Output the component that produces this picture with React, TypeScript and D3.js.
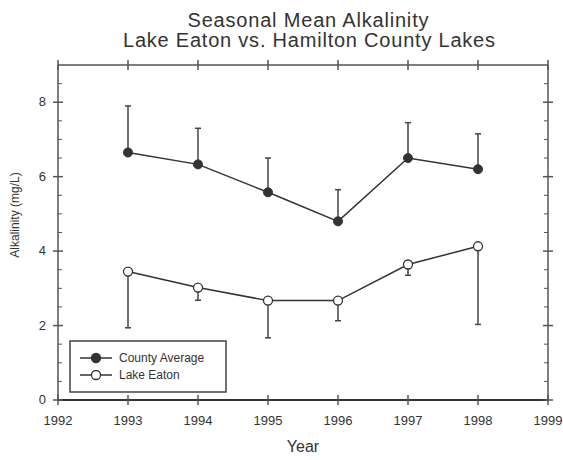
import React from 'react';
import * as d3 from 'd3';

// values
const years = [1993, 1994, 1995, 1996, 1997, 1998];
const countyMean = [6.65, 6.33, 5.58, 4.8, 6.5, 6.2];
const countyUpper = [7.9, 7.3, 6.5, 5.65, 7.45, 7.15];
const eatonMean = [3.45, 3.02, 2.67, 2.67, 3.64, 4.13];
const eatonLower = [1.94, 2.68, 1.67, 2.13, 3.35, 2.03];
const xTicks = [1992, 1993, 1994, 1995, 1996, 1997, 1998, 1999];
const yTicks = [0, 2, 4, 6, 8];
const legendLabels = ['County Average', 'Lake Eaton'];

const ink = '#333';
const font = 'Arial, "Liberation Sans", sans-serif';

export default function App() {
  const width = 563, height = 460;
  const margin = { top: 65, right: 15, bottom: 60, left: 58 };

  const x = d3.scaleLinear().domain([1992, 1999]).range([margin.left, width - margin.right]);
  const y = d3.scaleLinear().domain([0, 9]).range([height - margin.bottom, margin.top]);
  const [x0, x1] = x.range();
  const [yb, yt] = y.range();

  const line = d3.line<number>().x((_, i) => x(years[i])).y((d) => y(d));
  const minor = d3.range(0.5, 9, 0.5).filter((v) => v % 2 !== 0);

  return (
    <svg width={width} height={height} style={{ position: 'absolute', left: 0, top: 0 }} fontFamily={font}>
      <rect width={width} height={height} fill="#fff" />
      <text x={308} y={27} textAnchor="middle" fontSize={20} fill={ink} textLength={241} lengthAdjust="spacing">
        Seasonal Mean Alkalinity
      </text>
      <text x={309} y={47} textAnchor="middle" fontSize={20} fill={ink} textLength={372} lengthAdjust="spacing">
        Lake Eaton vs. Hamilton County Lakes
      </text>

      {/* frame */}
      <g stroke="#555" strokeWidth={1.5} fill="none">
        <line x1={x0} x2={x1} y1={yt} y2={yt} />
        <line x1={x0} x2={x0} y1={yt} y2={yb} />
        <line x1={x1} x2={x1} y1={yt} y2={yb} />
        <line x1={x0} x2={x1} y1={yb} y2={yb} stroke="#333" strokeWidth={2} />
        {xTicks.map((t) => (
          <g key={t}>
            <line x1={x(t)} x2={x(t)} y1={yb - 5} y2={yb + 5} />
            <line x1={x(t)} x2={x(t)} y1={yt - 5} y2={yt + 5} />
          </g>
        ))}
        {yTicks.map((t) => (
          <g key={t}>
            <line x1={x0 - 5} x2={x0 + 5} y1={y(t)} y2={y(t)} />
            <line x1={x1 - 5} x2={x1 + 5} y1={y(t)} y2={y(t)} />
          </g>
        ))}
        {minor.map((t) => (
          <g key={t} strokeWidth={1}>
            <line x1={x0} x2={x0 + 4} y1={y(t)} y2={y(t)} />
            <line x1={x1 - 4} x2={x1} y1={y(t)} y2={y(t)} />
          </g>
        ))}
      </g>

      <g fontSize={13} fill={ink}>
        {xTicks.map((t) => (
          <text key={t} x={x(t)} y={yb + 25} textAnchor="middle">{t}</text>
        ))}
        {yTicks.map((t) => (
          <text key={t} x={x0 - 12} y={y(t) + 4} textAnchor="end">{t}</text>
        ))}
      </g>
      <text x={(x0 + x1) / 2} y={yb + 52} textAnchor="middle" fontSize={16} fill={ink}>Year</text>
      <text transform="translate(19,215) rotate(-90)" textAnchor="middle" fontSize={12} fill={ink}>
        Alkalinity (mg/L)
      </text>

      {/* error bars */}
      <g stroke="#444" strokeWidth={1.5}>
        {years.map((yr, i) => (
          <g key={yr}>
            <line x1={x(yr)} x2={x(yr)} y1={y(countyMean[i])} y2={y(countyUpper[i])} />
            <line x1={x(yr) - 3} x2={x(yr) + 3} y1={y(countyUpper[i])} y2={y(countyUpper[i])} />
            <line x1={x(yr)} x2={x(yr)} y1={y(eatonMean[i])} y2={y(eatonLower[i])} />
            <line x1={x(yr) - 3} x2={x(yr) + 3} y1={y(eatonLower[i])} y2={y(eatonLower[i])} />
          </g>
        ))}
      </g>

      <path d={line(countyMean) ?? ''} fill="none" stroke={ink} strokeWidth={1.5} />
      <path d={line(eatonMean) ?? ''} fill="none" stroke={ink} strokeWidth={1.5} />
      {years.map((yr, i) => (
        <circle key={'c' + yr} cx={x(yr)} cy={y(countyMean[i])} r={4.5} fill="#333" stroke={ink} strokeWidth={1} />
      ))}
      {years.map((yr, i) => (
        <circle key={'e' + yr} cx={x(yr)} cy={y(eatonMean[i])} r={4.5} fill="#fff" stroke={ink} strokeWidth={1.3} />
      ))}

      {/* legend */}
      <g>
        <rect x={70} y={341} width={156} height={51} fill="#fff" stroke="#444" strokeWidth={1.5} />
        {legendLabels.map((lab, i) => (
          <g key={lab} transform={`translate(0,${358 + i * 17})`}>
            <line x1={80} x2={112} y1={0} y2={0} stroke={ink} strokeWidth={1.5} />
            <circle cx={96} cy={0} r={4.5} fill={i === 0 ? '#333' : '#fff'} stroke={ink} strokeWidth={1.3} />
            <text x={119} y={4} fontSize={12} fill={ink}>{lab}</text>
          </g>
        ))}
      </g>
    </svg>
  );
}
